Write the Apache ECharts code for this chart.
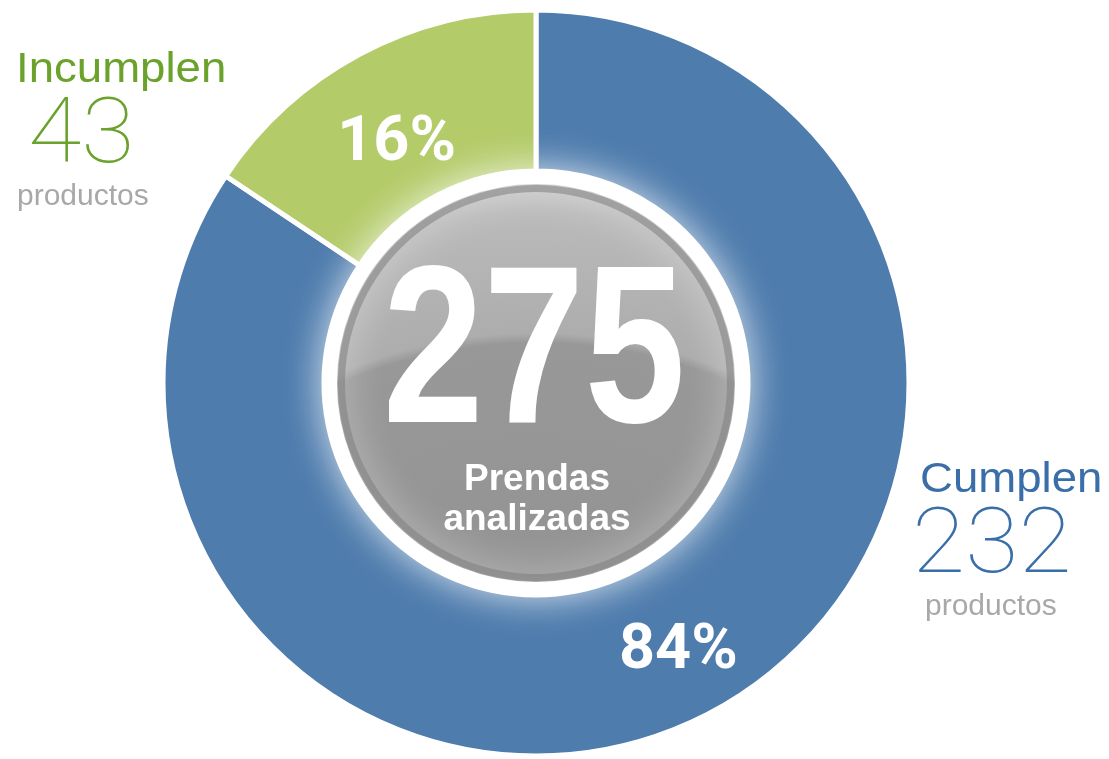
<!DOCTYPE html>
<html>
<head>
<meta charset="utf-8">
<title>Prendas analizadas</title>
<script src="https://cdn.jsdelivr.net/npm/echarts@6/dist/echarts.min.js"></script>
<style>
  html, body { margin: 0; padding: 0; background: #fff; }
  #divChart { width: 1109px; height: 759px; }
</style>
</head>
<body>
<div id="divChart"></div>
<script>
/** datos del grafico */
var categories = ['Cumplen', 'Incumplen'];
var values = [232, 43];
var unitText = 'productos';
var centerLines = ['Prendas', 'analizadas'];

/** colores */
var sliceColors = ['#4e7cad', '#b3cb69'];
var titleColors = ['#3a6ea8', '#6aa22c'];
var greyText = '#a8a8a8';

var divChart = null;
var option = null;

var center = [536, 383];
var plain = "'Liberation Sans', Arial, sans-serif";
var thin = "Roboto, 'Open Sans', sans-serif";

function total() {
  var t = 0;
  for (var i = 0; i < values.length; i++) t += values[i];
  return t;
}

/**
 * textos laterales, uno por categoria
 */
function sideLabels() {
  // Cumplen abajo a la derecha, Incumplen arriba a la izquierda
  var pos = [[920, 480], [16, 70]];
  var numX = [912, 28];
  var unitX = [925, 17];
  var els = [];
  for (var i = 0; i < categories.length; i++) {
    var x = pos[i][0], y = pos[i][1];
    els.push({
      type: 'text', x: x, y: y, scaleX: 1.06,
      style: { text: categories[i], fill: titleColors[i], font: '43px ' + plain, textVerticalAlign: 'middle' }
    });
    els.push({
      type: 'text', x: numX[i], y: y + 69, scaleX: 1.08,
      style: { text: String(values[i]), fill: titleColors[i], font: '100 90px ' + thin, textVerticalAlign: 'middle' }
    });
    els.push({
      type: 'text', x: unitX[i], y: y + 127,
      style: { text: unitText, fill: greyText, font: '30px ' + plain, textVerticalAlign: 'middle' }
    });
  }
  return els;
}

function centerLabels() {
  return [
    {
      type: 'text', x: 534, y: 360, z: 100, scaleX: 0.81,
      style: { text: String(total()), fill: '#fff', font: 'bold 224px ' + plain, textAlign: 'center', textVerticalAlign: 'middle' }
    },
    {
      type: 'text', x: 537, y: 480, z: 100,
      style: { text: centerLines[0], fill: '#fff', font: 'bold 37px ' + plain, textAlign: 'center', textVerticalAlign: 'middle' }
    },
    {
      type: 'text', x: 537, y: 520, z: 100,
      style: { text: centerLines[1], fill: '#fff', font: 'bold 37px ' + plain, textAlign: 'center', textVerticalAlign: 'middle' }
    }
  ];
}

function buildOption() {
  // pequeno ajuste de cada porcentaje
  var labelOffsets = [[3, 9], [0, 22]];
  var ringData = [];
  for (var i = 0; i < categories.length; i++) {
    ringData.push({
      name: categories[i],
      value: values[i],
      itemStyle: { color: sliceColors[i] },
      label: { offset: labelOffsets[i] }
    });
  }
  option = {
    backgroundColor: '#fff',
    animation: false,
    series: [
      {
        // anillo
        type: 'pie',
        center: center,
        radius: [212, 373],
        startAngle: 90,
        clockwise: true,
        silent: true,
        percentPrecision: 0,
        itemStyle: { borderColor: '#fff', borderWidth: 5 },
        label: {
          show: true,
          position: 'inside',
          formatter: '{d}%',
          color: '#fff',
          fontFamily: 'Roboto',
          fontWeight: 'bold',
          fontSize: 63
        },
        labelLine: { show: false },
        data: ringData
      },
      {
        // disco gris central con brillo blanco
        type: 'pie',
        center: center,
        radius: [0, 204],
        silent: true,
        z: 3,
        label: { show: false },
        labelLine: { show: false },
        itemStyle: {
          borderColor: '#fff',
          borderWidth: 10,
          shadowBlur: 40,
          shadowColor: 'rgba(255,255,255,0.95)',
          color: new echarts.graphic.RadialGradient(0.5, 1.58, 1.6, [
            { offset: 0, color: '#8e8e8e' },
            { offset: 0.735, color: '#989898' },
            { offset: 0.75, color: '#adadad' },
            { offset: 0.93, color: '#bababa' },
            { offset: 1, color: '#cfcfcf' }
          ])
        },
        data: [{ name: 'total', value: total() }]
      },
      {
        // borde oscuro interior
        type: 'pie',
        center: center,
        radius: [191, 198],
        silent: true,
        z: 4,
        label: { show: false },
        labelLine: { show: false },
        itemStyle: { color: 'rgba(125,125,125,0.55)' },
        data: [{ name: 'rim', value: total() }]
      }
    ],
    graphic: sideLabels().concat(centerLabels())
  };
}

function reloadEcharts() {
  divChart = echarts.init(document.getElementById('divChart'));
  buildOption();
  divChart.setOption(option);
}

window.onload = function () {
  reloadEcharts();
};
</script>
</body>
</html>
